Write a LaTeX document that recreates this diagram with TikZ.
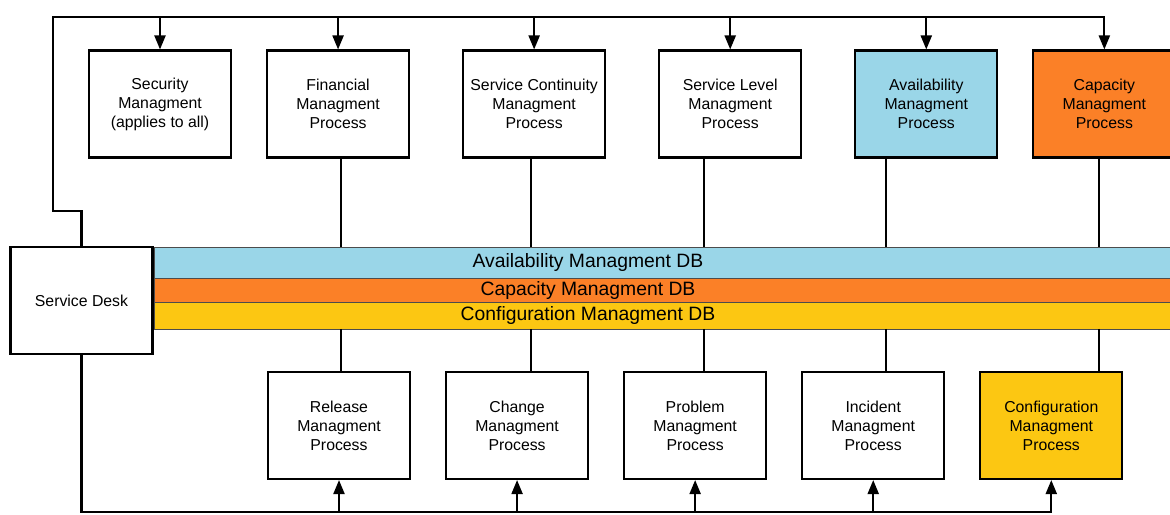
\documentclass[tikz,border=0pt]{standalone}
\usepackage{fontspec}
\setmainfont{Liberation Sans}
\usepackage{xcolor}
\usepackage{tikz}
\usetikzlibrary{positioning, arrows.meta}

\definecolor{availblue}{RGB}{154,214,232}
\definecolor{caporange}{RGB}{251,128,39}
\definecolor{confyellow}{RGB}{252,199,18}

\begin{document}
\begin{tikzpicture}[
    x=0.02cm, y=-0.02cm,
    node distance=0.68cm,
    box/.style={rectangle, draw=black, line width=1.2pt, fill=white, minimum width=2.84cm, minimum height=2.14cm, align=center, font=\fontsize{9}{10.8}\selectfont},
    dbbar/.style={rectangle, draw=black!70, line width=0.5pt, minimum width=20.6cm, inner sep=0pt, outer sep=0pt, anchor=north west},
    dbtext/.style={font=\fontsize{11}{13}\selectfont, inner sep=0pt},
    link/.style={line width=1.2pt},
    arrow/.style={-{Triangle[length=0.28cm, width=0.22cm]}, line width=1.2pt}
]
\useasboundingbox (0,0) rectangle (1170,514);

% Row 1: processes fed from the desk
\node[box] (sec) at (160,104) {Security\\Managment\\(applies to all)};
\node[box, right=of sec] (fin) {Financial\\Managment\\Process};
\node[box, right=1.04cm of fin] (cont) {Service Continuity\\Managment\\Process};
\node[box, right=1.04cm of cont] (level) {Service Level\\Managment\\Process};
\node[box, fill=availblue, right=1.04cm of level] (avail) {Availability\\Managment\\Process};
\node[box, fill=caporange, right=of avail] (cap) {Capacity\\Managment\\Process};

% Databases
\node[dbbar, fill=availblue, minimum height=0.62cm] (availbar) at (154,247) {};
\node[dbbar, fill=caporange, minimum height=0.48cm] (capbar) at (availbar.south west) {};
\node[dbbar, fill=confyellow, minimum height=0.54cm] (confbar) at (capbar.south west) {};
\node[dbtext] (availtxt) at (588,262.5) {Availability Managment DB};
\node[dbtext] (captxt) at (588,290) {Capacity Managment DB};
\node[dbtext] (conftxt) at (588,315.5) {Configuration Managment DB};

% Service desk
\node[box] (desk) at (81.5,300.5) {Service Desk};

% Row 2: processes fed from the desk
\node[box] (rel) at (339,425.5) {Release\\Managment\\Process};
\node[box, right=of rel] (chg) {Change\\Managment\\Process};
\node[box, right=of chg] (prob) {Problem\\Managment\\Process};
\node[box, right=of prob] (inc) {Incident\\Managment\\Process};
\node[box, fill=confyellow, right=of inc] (conf) {Configuration\\Managment\\Process};

% Arrows
\coordinate (topleft) at (53,17);
\coordinate (jog) at (53,211);
\coordinate (botline) at (0,512);
\draw[arrow] (desk.north) |- (jog) -- (topleft) -| (cap.north);
\foreach \b in {sec, fin, cont, level, avail}
    \draw[arrow] (topleft -| \b.north) -- (\b.north);
\draw[arrow] (desk.south) |- (botline -| conf.south) -- (conf.south);
\foreach \b in {rel, chg, prob, inc}
    \draw[arrow] (botline -| \b.south) -- (\b.south);

% Links through the databases
\foreach \up/\down/\x [count=\i] in {fin/rel/341, cont/chg/531, level/prob/704, avail/inc/886, cap/conf/1099} {
    \coordinate (v\i) at (\x,0);
    \draw[link] (v\i |- \up.south) -- (v\i |- availbar.north);
    \draw[link] (v\i |- confbar.south) -- (v\i |- \down.north);
}

\end{tikzpicture}
\end{document}
